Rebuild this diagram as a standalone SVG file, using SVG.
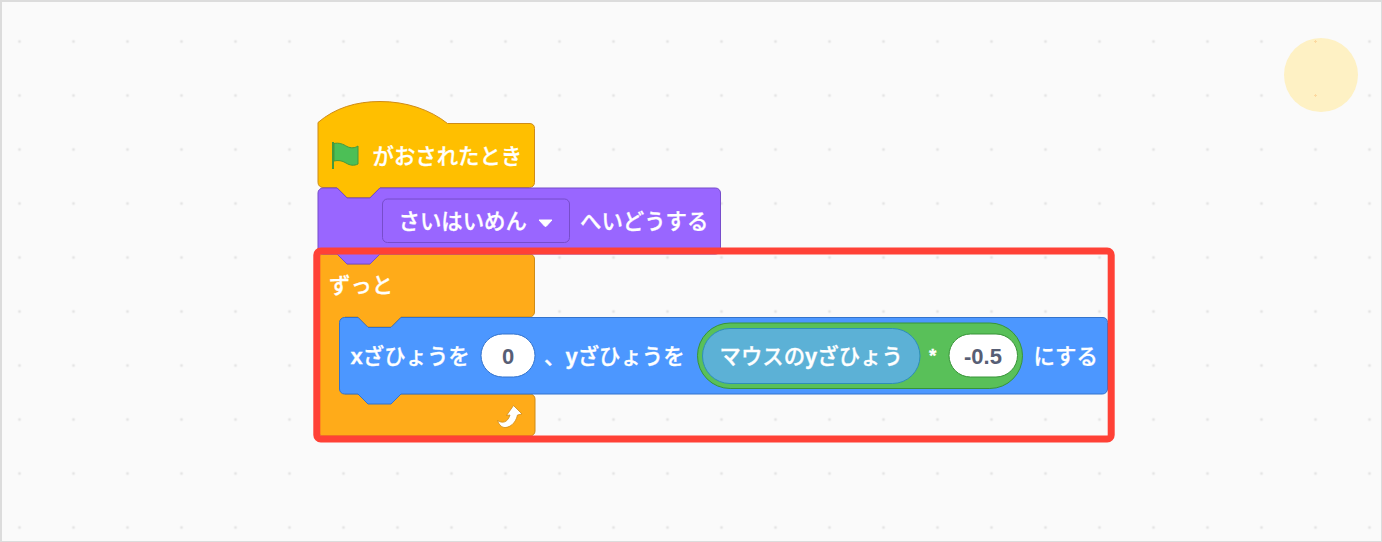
<svg xmlns="http://www.w3.org/2000/svg" width="1382" height="542" viewBox="0 0 1382 542">
<style>
.b{stroke-width:1;stroke-linejoin:round}
.t{font-family:"Liberation Sans","Noto Sans CJK JP",sans-serif;font-weight:500;font-size:21.400px;fill:#fff;stroke:#fff;stroke-width:.3}
.l{font-weight:700;font-size:22px}
.n{font-family:"Liberation Sans","Noto Sans CJK JP",sans-serif;font-size:22px;fill:#575E75;text-anchor:middle;font-weight:700}
</style>
<defs>
<pattern id="grid" x="0" y="0" width="54" height="54" patternUnits="userSpaceOnUse" patternTransform="translate(19.5 41.5)">
<path d="M-1.500 -.5h3v1h-3zM-.5 -1.500h1v3h-1zM52.500 -.5h3v1h-3zM53.500 -1.500h1v3h-1zM-1.500 53.500h3v1h-3zM-.5 52.500h1v3h-1zM52.500 53.500h3v1h-3zM53.500 52.500h1v3h-1z" fill="#dedede"/>
</pattern>
</defs>
<rect width="1382" height="542" fill="#dcdcdc"/>
<rect x="2" y="2" width="1379" height="539" fill="#fafafa"/>
<rect x="2" y="2" width="1379" height="539" fill="url(#grid)"/>
<circle cx="1321" cy="75" r="37" fill="#fef1c4"/>
<path d="M1314 41.500h3M1315.500 40v3M1314 95.500h3M1315.500 94v3" stroke="#fcd9a0" fill="none"/>
<g id="forever">
<path class="b" fill="#FFAB19" stroke="#CF8B17" d="M318 259a5 5 0 0 1 5-5h14l10 10h23l10-10h149.500a5 5 0 0 1 5 5v53a5 5 0 0 1-5 5H401l-10 10h-23l-10-10h-13v77h185a5 5 0 0 1 5 5v32a5 5 0 0 1-5 5H323a5 5 0 0 1-5-5z"/>
<text class="t" x="329" y="293">ずっと</text>
<path d="M497.500 420.500C502 423.500 507.500 423 510 415L506.500 415.500L513.500 405.500L522 414L517.500 415C515.500 424 509 428 504 427.500C501 427 498.500 424 497.500 420.500Z" fill="#fff" stroke="#CF8B17" stroke-width=".8" stroke-linejoin="round"/>
</g>
<g id="hat">
<path class="b" fill="#FFBF00" stroke="#CF8B17" d="M318 122.500C335 108 356 101.500 380 101.500c26 0 50 8 67.500 22H530a5 5 0 0 1 4.500 5v54a5 5 0 0 1-5 5H380l-10 10h-23l-10-10h-14a5 5 0 0 1-5-5z"/>
<path d="M334 143.500c5-1 9 .5 13 3 4 2 8 1.500 11-.5v18c-4 2-8 1.500-12-1-4-2.500-8-3-12-2z" fill="#4CBF56" stroke="#45993d"/>
<rect x="332" y="142" width="2" height="27" fill="#45993d"/>
<text class="t" x="372.500" y="164">がおされたとき</text>
</g>
<g id="backdrop">
<path class="b" fill="#9966FF" stroke="#774DCB" d="M318 193a5 5 0 0 1 5-5h14l10 10h23l10-10h335.500a5 5 0 0 1 5 5v56a5 5 0 0 1-5 5H380l-10 10h-23l-10-10h-14a5 5 0 0 1-5-5z"/>
<rect class="b" x="382.500" y="199" width="187" height="43.500" rx="5" fill="#9966FF" stroke="#774DCB"/>
<text class="t" x="398.500" y="229">さいはいめん</text>
<path d="M539 220h13l-5.500 6q-1 1-2 0z" fill="#fff" stroke="#fff" stroke-linejoin="round"/>
<text class="t" x="580" y="229">へいどうする</text>
</g>
<g id="motion">
<path class="b" fill="#4C97FF" stroke="#3373CC" d="M339.500 322.500a5 5 0 0 1 5-5H358l10 10h23l10-10h702a5 5 0 0 1 4.500 5v66.500a5 5 0 0 1-5 5H401l-10 10h-23l-10-10h-13.500a5 5 0 0 1-5-5z"/>
<text class="t" x="350.500" y="364"><tspan class="l">x</tspan>ざひょうを</text>
<rect class="b" x="481" y="334" width="54" height="43" rx="21.500" fill="#fff" stroke="#3373CC"/>
<text class="n" x="508" y="364">0</text>
<text class="t" x="544" y="364">、<tspan class="l">y</tspan>ざひょうを</text>
<rect class="b" x="697.500" y="323" width="325" height="65.500" rx="32.700" fill="#59C059" stroke="#389438"/>
<rect class="b" x="702.500" y="328.500" width="217.500" height="55" rx="27.500" fill="#5CB1D6" stroke="#2E8EB8"/>
<text class="t" x="719.500" y="364">マウスの<tspan class="l">y</tspan>ざひょう</text>
<text class="t" x="929" y="362" style="font-size:19px;font-weight:700">*</text>
<rect class="b" x="949" y="334" width="68.500" height="43" rx="21.500" fill="#fff" stroke="#389438"/>
<text class="n" x="983" y="364">-0.5</text>
<text class="t" x="1033.500" y="364">にする</text>
</g>
<rect id="highlight" x="316.800" y="251" width="794.400" height="188" rx="4" fill="none" stroke="#FF4136" stroke-width="7"/>
</svg>
